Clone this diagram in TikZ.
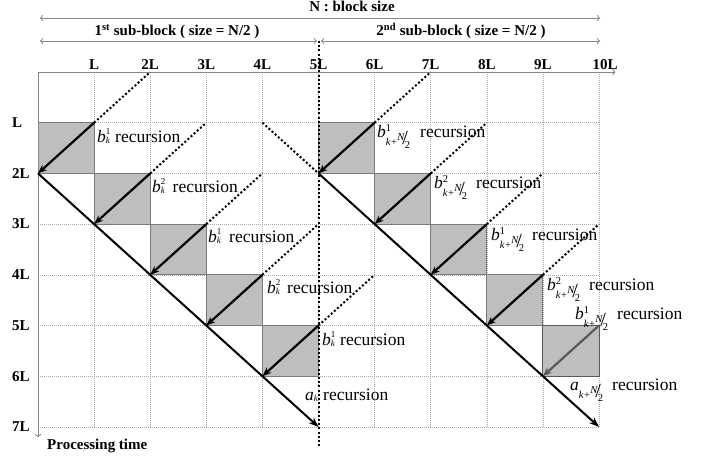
\documentclass[tikz,border=0pt]{standalone}
\usepackage{fontspec}
\setmainfont{Liberation Serif}
\usetikzlibrary{arrows.meta}

\definecolor{cellgray}{HTML}{BEBEBE}
\definecolor{celledge}{HTML}{7A7A7A}
\definecolor{gridgray}{HTML}{A8A8A8}
\definecolor{axisgray}{HTML}{858585}
\definecolor{lastgray}{HTML}{5A5A5A}

% script sizes used for the indices
\newcommand\idxsize{\fontsize{9}{9}\selectfont}
\newcommand\subsize{\fontsize{10.5}{10.5}\selectfont}
% N/2 written as a slanted fraction
\newcommand\halfN{\raisebox{4.5pt}{\textit{N}}\kern-2.5pt\raisebox{0.5pt}{\fontsize{20}{20}\selectfont/}\kern-3pt\raisebox{-3.5pt}{2}}
% index k+N/2
\newcommand\kNsub{\raisebox{-8pt}{\subsize\textit{k}\kern0.3pt+\kern0.3pt\halfN}}
% b^i_k
\newcommand\bk[1]{\textit{b}\rlap{\raisebox{7.5pt}{\idxsize #1}}\raisebox{-1.5pt}{\idxsize\textit{k}}}
% b^i_{k+N/2}
\newcommand\bkN[1]{\textit{b}\rlap{\raisebox{6pt}{\subsize #1}}\kNsub}
% a_k and a_{k+N/2}
\newcommand\ak{\textit{a}\raisebox{-1.5pt}{\idxsize\textit{k}}}
\newcommand\akN{\textit{a}\kNsub}
% symbol in a box of fixed width, then the word
\newcommand\recl[2]{\makebox[#1][l]{#2}recursion}

\tikzset{
  axisline/.style={draw=axisgray, line width=0.9pt},
  gridline/.style={draw=gridgray, line width=0.6pt, dash pattern=on 1pt off 1pt},
  cellbox/.style={fill=cellgray, draw=celledge, line width=0.9pt},
  recarrow/.style={line width=2.2pt, -{Stealth[length=9pt,width=7pt]}},
  mainarrow/.style={line width=2pt, -{Stealth[length=10pt,width=7.5pt]}},
  dotline/.style={line width=2pt, dash pattern=on 2pt off 2.2pt},
  spanarrow/.style={draw=axisgray, line width=0.8pt, {To[length=3pt,width=6pt]}-{To[length=3pt,width=6pt]}},
  boldlab/.style={font=\fontsize{15}{15}\selectfont\bfseries, inner sep=0pt},
  reclab/.style={font=\fontsize{17.5}{17.5}\selectfont, anchor=base west, inner sep=0pt},
}

\begin{document}
\begin{tikzpicture}[x=1pt,y=-1pt]
\useasboundingbox (0,0) rectangle (706,460);

% ---- block size spans above the chart ----
\coordinate (nL) at (40,18);  \coordinate (nR) at (600,18);
\coordinate (aL) at (40,41);  \coordinate (aR) at (317,41);
\coordinate (bL) at (321,41); \coordinate (bR) at (600,41);
\draw[spanarrow] (nL) -- (nR);
\draw[spanarrow] (aL) -- (aR);
\draw[spanarrow] (bL) -- (bR);
\node[boldlab, anchor=base] (ntext) at (352,12) {N : block size};
\node[boldlab, anchor=base] (atext) at (177,36) {1\textsuperscript{st} sub-block ( size = N/2 )};
\node[boldlab, anchor=base] (btext) at (461,36) {2\textsuperscript{nd} sub-block ( size = N/2 )};

\begin{scope}[shift={(38pt,-72pt)}, x=56.1pt, y=-50.7pt]
  \foreach \i in {0,...,10}
    \foreach \j in {0,...,7}
      \coordinate (p\i-\j) at (\i,\j);

  % dotted grid
  \foreach \i in {1,...,10} \draw[gridline] (p\i-0) -- (p\i-7);
  \foreach \j in {1,...,7} \draw[gridline] (p0-\j) -- (p10-\j);

  % shaded cells of the b recursions
  \foreach \i/\j in {0/1,1/2,2/3,3/4,4/5,5/1,6/2,7/3,8/4}
    \filldraw[cellbox] (\i,\j) rectangle ++(1,1);
  \filldraw[cellbox, draw=lastgray] (9,5) rectangle ++(1,1);

  % axes
  \coordinate (xend) at (10.29,0);
  \coordinate (yend) at (0,7.2);
  \draw[axisline, -{To[length=3pt,width=6pt]}] (p0-0) -- (xend);
  \draw[axisline, -{To[length=3pt,width=6pt]}] (p0-0) -- (yend);

  % boundary between the two sub-blocks
  \coordinate (sepT) at (5,-0.61);
  \coordinate (sepB) at (5,7.4);
  \draw[dotline] (sepT) -- (sepB);

  % dotted dependency lines
  \foreach \a/\b/\c/\d in {1/1/2/0, 2/2/3/1, 3/3/4/2, 4/4/5/3, 5/5/6/4, 4/1/5/2,
                          6/1/7/0, 7/2/8/1, 8/3/9/2, 9/4/10/3}
    \draw[dotline] (p\a-\b) -- (p\c-\d);

  % b recursions inside each shaded cell
  \foreach \i/\j in {0/1,1/2,2/3,3/4,4/5,5/1,6/2,7/3,8/4} {
    \pgfmathtruncatemacro\ii{\i+1}
    \pgfmathtruncatemacro\jj{\j+1}
    \draw[recarrow] (p\ii-\j) -- (p\i-\jj);
  }
  \draw[recarrow, draw=lastgray, fill=lastgray] (p10-5) -- (p9-6);

  % a recursions
  \draw[mainarrow] (p0-2) -- (p5-7);
  \draw[mainarrow] (p5-2) -- (p10-7);

  % axis tick labels
  \foreach \i/\t in {1/L,2/2L,3/3L,4/4L,5/5L,6/6L,7/7L,8/8L,9/9L}
    \node[boldlab, anchor=base] (col\i) at ([yshift=2pt]p\i-0) {\t};
  \node[boldlab, anchor=base] (col10) at ([xshift=6pt,yshift=2pt]p10-0) {10L};
  \foreach \j/\t in {1/L,2/2L,3/3L,4/4L,5/5L,6/6L,7/7L}
    \node[boldlab, anchor=west] (row\j) at ([xshift=-26pt]p0-\j) {\t};
\end{scope}

\node[boldlab, anchor=base west] (ptime) at (47,449) {Processing time};

% recursion labels, first sub-block
\node[reclab] (l1) at (97,142)  {\recl{18pt}{\bk{1}}};
\node[reclab] (l2) at (152,192) {\recl{20.5pt}{\bk{2}}};
\node[reclab] (l3) at (208,242) {\recl{21pt}{\bk{1}}};
\node[reclab] (l4) at (267,293) {\recl{20pt}{\bk{2}}};
\node[reclab] (l5) at (322,345) {\recl{18pt}{\bk{1}}};
\node[reclab] (l6) at (305,400) {\recl{18pt}{\ak}};

% recursion labels, second sub-block
\node[reclab] (m1) at (377,137) {\recl{43pt}{\bkN{1}}};
\node[reclab] (m2) at (434,188) {\recl{42pt}{\bkN{2}}};
\node[reclab] (m3) at (491,240) {\recl{41pt}{\bkN{1}}};
\node[reclab] (m4) at (547,290) {\recl{42pt}{\bkN{2}}};
\node[reclab] (m5) at (575,319) {\recl{42pt}{\bkN{1}}};
\node[reclab] (m6) at (570,390) {\recl{42pt}{\akN}};
\end{tikzpicture}
\end{document}
